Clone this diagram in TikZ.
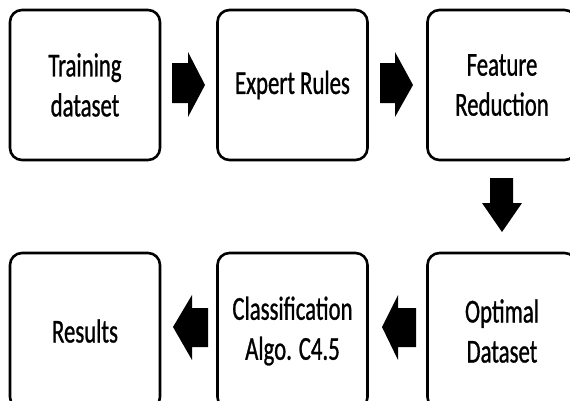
\documentclass[tikz,border=0pt]{standalone}
\usepackage{fontspec}
\setmainfont{Carlito}[FakeStretch=0.68,FakeBold=0.8]
\begin{document}
\begin{tikzpicture}[x=1pt,y=-1pt,
  box/.style={draw=black, line width=2.6pt, rounded corners=12pt, minimum width=150pt, minimum height=150pt, inner sep=0pt, align=center, font=\fontsize{33.5}{40}\selectfont},
  blockarrow/.style={fill=black, draw=none}]
\useasboundingbox (0,0) rectangle (570,400);
\clip (0,0) rectangle (570,400);
\fill[white] (0,0) rectangle (570,400);
\node[box] (train) at (85,85) {Training\\dataset};
\node[box] (expert) at (292.5,85) {Expert Rules};
\node[box, minimum width=149pt] (feat) at (502,85) {Feature\\Reduction};
\node[box, minimum height=156pt] (results) at (85,331) {Results};
\node[box, minimum height=156pt] (classif) at (292.5,331) {Classification\\Algo. C4.5};
\node[box, minimum width=149pt, minimum height=156pt] (optimal) at (502,331) {Optimal\\Dataset};
% block arrows
\fill[blockarrow] (172,63) -- (188,63) -- (188,52) -- (205,85) -- (188,117) -- (188,103) -- (172,103) -- cycle;
\fill[blockarrow] (380,63) -- (395,63) -- (395,52) -- (413,85) -- (395,117) -- (395,103) -- (380,103) -- cycle;
\fill[blockarrow] (490,178) -- (513,178) -- (513,203) -- (522,203) -- (502,232) -- (482,203) -- (490,203) -- cycle;
\fill[blockarrow] (208,308) -- (192,308) -- (192,295) -- (173,327) -- (192,360) -- (192,347) -- (208,347) -- cycle;
\fill[blockarrow] (416,308) -- (398,308) -- (398,295) -- (382,327) -- (398,360) -- (398,347) -- (416,347) -- cycle;
\end{tikzpicture}
\end{document}
